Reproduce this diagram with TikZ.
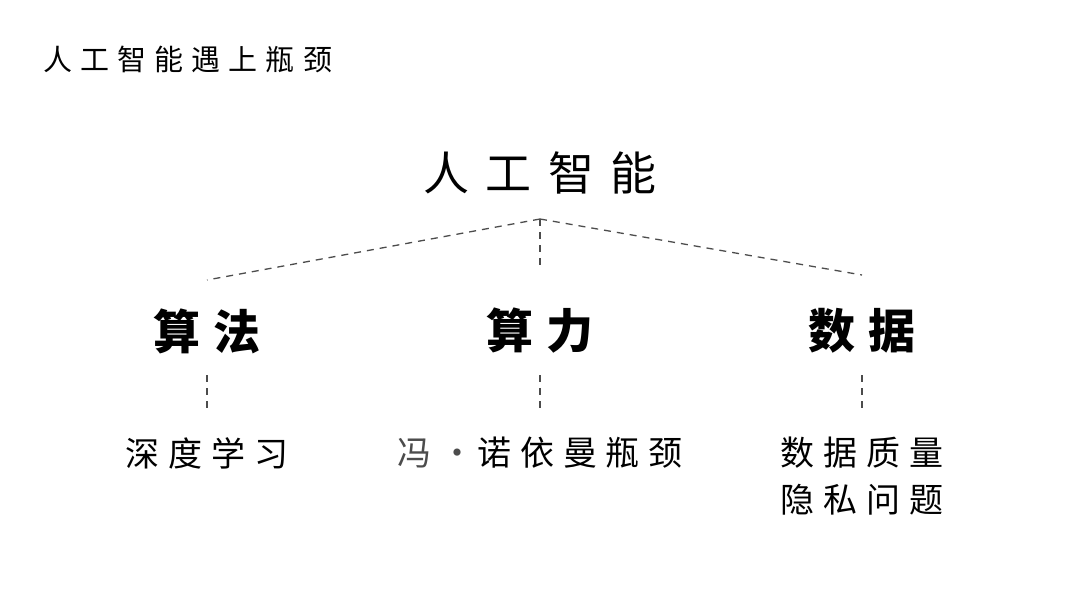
\documentclass[tikz,border=0pt]{standalone}
\usepackage{fontspec}
\setmainfont{Noto Sans CJK SC}
\newfontfamily\titlefont[LetterSpace=28]{Noto Sans CJK SC}
\newfontfamily\rootfont[LetterSpace=35]{Noto Sans CJK SC}
\newfontfamily\branchfont[LetterSpace=28]{Noto Sans CJK SC}
\newfontfamily\leaffont[LetterSpace=26]{Noto Sans CJK SC}
\usetikzlibrary{positioning}

\begin{document}
\begin{tikzpicture}[x=1pt,y=-1pt,
    txt/.style={inner sep=0pt, text=black},
    link/.style={draw=black!70, line width=1.3pt, dash pattern=on 7pt off 6pt}]
    \useasboundingbox[fill=white] (0,0) rectangle (1080,608);

    \node[txt, anchor=west, font=\titlefont\fontsize{29}{35}\selectfont] (title) at (43,59) {人工智能遇上瓶颈};

    \node[txt, font=\rootfont\fontsize{46}{55}\selectfont] (ai) at (540,172.5) {人工智能};

    \node[txt, font=\branchfont\bfseries\fontsize{47}{56}\selectfont] (algo) at (207,331) {算法};
    \node[txt, font=\branchfont\bfseries\fontsize{47}{56}\selectfont] (power) at (540,331) {算力};
    \node[txt, font=\branchfont\bfseries\fontsize{47}{56}\selectfont] (data) at (862,331) {数据};

    \node[txt, font=\leaffont\fontsize{34}{47}\selectfont] (deep) at (207,453) {深度学习};
    \node[txt, font=\leaffont\fontsize{34}{47}\selectfont] (vonneumann) at (540,453) {\textcolor{black!70}{冯·}\hspace{0.1em}诺依曼瓶颈};
    \node[txt, align=left, font=\leaffont\fontsize{34}{47}\selectfont] (quality) at (862,476.5) {数据质量\\隐私问题};

    % dashed tree
    \coordinate (top) at (540,219);
    \coordinate (mid) at (540,270);
    \coordinate (l) at (207,280);
    \coordinate (r) at (862,275);
    \draw[link] (top) -- (l);
    \draw[link] (top) -- (r);
    \draw[link] (top) -- (mid);

    \foreach \x/\n in {207/a, 540/p, 862/d}{
        \coordinate (\n1) at (\x,375);
        \coordinate (\n2) at (\x,408);
        \draw[link] (\n1) -- (\n2);
    }
\end{tikzpicture}
\end{document}
